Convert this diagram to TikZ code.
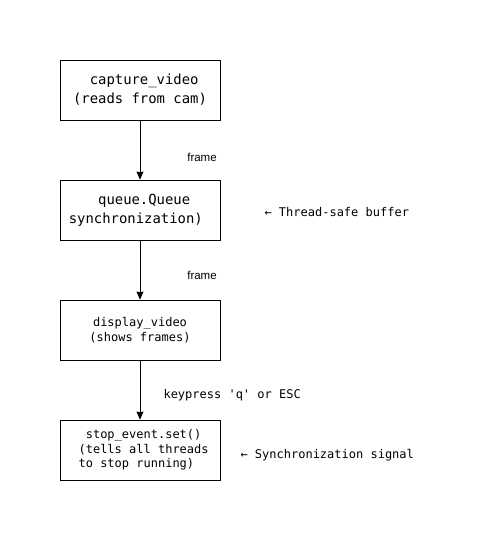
\documentclass[tikz,border=0pt]{standalone}
\usepackage{fontspec}
\setmonofont{DejaVu Sans Mono}
\newfontfamily\etiqfont{Liberation Sans}
\usetikzlibrary{arrows.meta}
\begin{document}
\begin{tikzpicture}[x=1pt, y=-1pt,
        caja/.style={draw, line width=0.8pt, align=center, minimum width=160pt, minimum height=60pt, inner sep=0pt},
        grande/.style={font=\ttfamily\fontsize{13.9}{19}\selectfont},
        chica/.style={font=\ttfamily\fontsize{12}{14.6}\selectfont},
        etiq/.style={font=\etiqfont\fontsize{11.5}{13}\selectfont},
        flecha/.style={-{Stealth[length=8pt, width=7pt, inset=0.5pt]}, line width=0.8pt}]
        \useasboundingbox (0,0) rectangle (482,544);
        \node[caja, grande] (captura) at (140,90)  {\ capture\_video\\(reads from cam)};
        \node[caja, grande] (cola)    at (140,210) {\ queue.Queue\\synchronization)\hphantom{x}};
        \node[caja, chica]  (muestra) at (140,330) {display\_video\\(shows frames)};
        \node[caja, chica]  (parada)  at (140,450) {\ stop\_event.set()\\\ (tells all threads\\to stop running)\hphantom{x}};
        \node[etiq] (e1) at (202,157) {frame};
        \node[etiq] (e2) at (202,275) {frame};
        \node[chica, anchor=west] (e3) at (160,395) {keypress 'q' or ESC};
        \node[chica, anchor=west] (n1) at (261,212) {← Thread-safe buffer};
        \node[chica, anchor=west] (n2) at (237,455) {← Synchronization signal};
        \draw[flecha] (captura.south) -- (cola.north);
        \draw[flecha] (cola.south) -- (muestra.north);
        \draw[flecha] (muestra.south) -- (parada.north);
    \end{tikzpicture}
\end{document}
